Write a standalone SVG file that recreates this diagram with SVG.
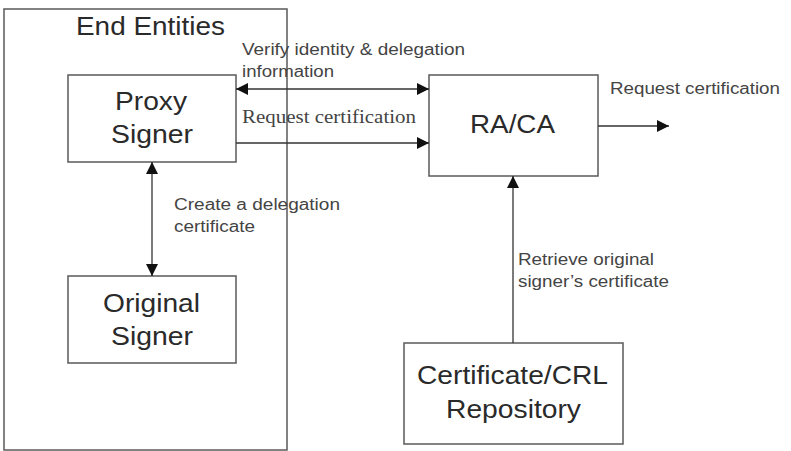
<svg xmlns="http://www.w3.org/2000/svg" width="791" height="451" viewBox="0 0 791 451">
  <style>
    .box { fill: none; stroke: #5a5a5a; stroke-width: 1.5; }
    .big { font-family: "Liberation Sans", Arial, sans-serif; font-size: 25px; fill: #2a2a2a; }
    .lbl { font-family: "Liberation Sans", Arial, sans-serif; font-size: 16px; fill: #444; }
    .serif { font-family: "Liberation Serif", "Times New Roman", serif; font-size: 19px; fill: #444; }
    .conn { fill: none; stroke: #333; stroke-width: 1.3; }
  </style>
  <defs>
    <marker id="arrow" viewBox="0 0 10 10" refX="10" refY="5" markerWidth="17" markerHeight="12" markerUnits="userSpaceOnUse" orient="auto-start-reverse">
      <path d="M0,0 L10,5 L0,10 z" fill="#111"/>
    </marker>
  </defs>
  <rect width="791" height="451" fill="#ffffff"/>

  <g id="end-entities">
    <rect class="box" x="4" y="9" width="283" height="441"/>
    <text class="big" x="76" y="35" textLength="149" lengthAdjust="spacingAndGlyphs">End Entities</text>
  </g>

  <g id="proxy-signer">
    <rect class="box" x="68" y="75" width="168" height="87"/>
    <text class="big" x="115" y="110" textLength="72" lengthAdjust="spacingAndGlyphs">Proxy</text>
    <text class="big" x="111" y="143" textLength="82" lengthAdjust="spacingAndGlyphs">Signer</text>
  </g>

  <g id="original-signer">
    <rect class="box" x="68" y="276" width="168" height="87"/>
    <text class="big" x="103" y="312" textLength="97" lengthAdjust="spacingAndGlyphs">Original</text>
    <text class="big" x="111" y="345" textLength="82" lengthAdjust="spacingAndGlyphs">Signer</text>
  </g>

  <g id="ra-ca">
    <rect class="box" x="429" y="75" width="169" height="101"/>
    <text class="big" x="470" y="133" textLength="85" lengthAdjust="spacingAndGlyphs">RA/CA</text>
  </g>

  <g id="repository">
    <rect class="box" x="404" y="343" width="219" height="101"/>
    <text class="big" x="417" y="384" textLength="191" lengthAdjust="spacingAndGlyphs">Certificate/CRL</text>
    <text class="big" x="446" y="418" textLength="135" lengthAdjust="spacingAndGlyphs">Repository</text>
  </g>

  <g id="connectors">
    <line class="conn" x1="236" y1="89" x2="429" y2="89" marker-start="url(#arrow)" marker-end="url(#arrow)"/>
    <line class="conn" x1="236" y1="143" x2="429" y2="143" marker-end="url(#arrow)"/>
    <line class="conn" x1="598" y1="126" x2="669" y2="126" marker-end="url(#arrow)"/>
    <line class="conn" x1="152" y1="162" x2="152" y2="276" marker-start="url(#arrow)" marker-end="url(#arrow)"/>
    <line class="conn" x1="513" y1="343" x2="513" y2="176" marker-end="url(#arrow)"/>

    <text class="lbl" x="242" y="55" textLength="223" lengthAdjust="spacingAndGlyphs">Verify identity &amp; delegation</text>
    <text class="lbl" x="242" y="77" textLength="92" lengthAdjust="spacingAndGlyphs">information</text>
    <text class="serif" x="242" y="123" textLength="174" lengthAdjust="spacingAndGlyphs">Request certification</text>
    <text class="lbl" x="610" y="94" textLength="170" lengthAdjust="spacingAndGlyphs">Request certification</text>
    <text class="lbl" x="174" y="210" textLength="166" lengthAdjust="spacingAndGlyphs">Create a delegation</text>
    <text class="lbl" x="174" y="232" textLength="81" lengthAdjust="spacingAndGlyphs">certificate</text>
    <text class="lbl" x="518" y="265" textLength="136" lengthAdjust="spacingAndGlyphs">Retrieve original</text>
    <text class="lbl" x="518" y="287" textLength="151" lengthAdjust="spacingAndGlyphs">signer’s certificate</text>
  </g>
</svg>
